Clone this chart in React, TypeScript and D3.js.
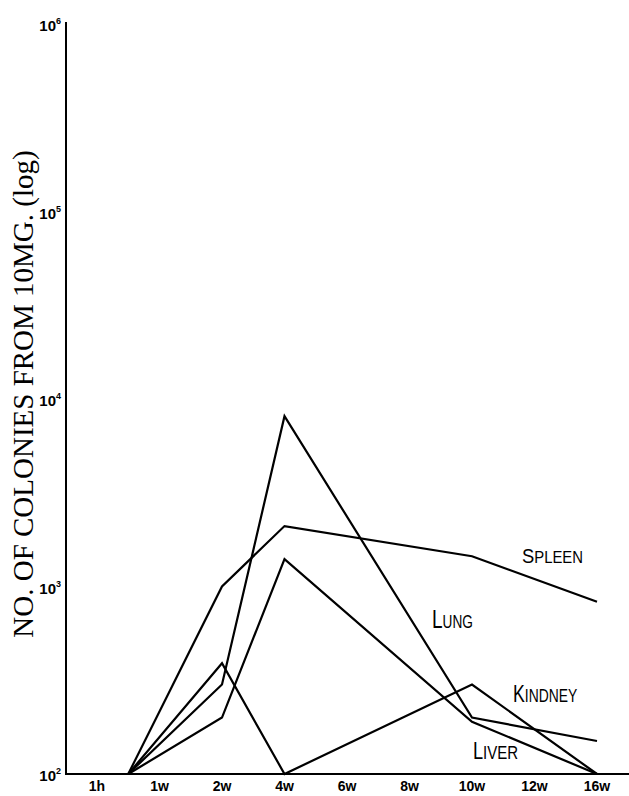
import React from "react";
import * as d3 from "d3";

// X categories (tick labels) and their positions on an index axis
const xTickLabels = ["1h", "1w", "2w", "4w", "6w", "8w", "10w", "12w", "16w"];
const xTickIndex = [0, 1, 2, 3, 4, 5, 6, 7, 8];

// Sampling points of the series (start point lies between 1h and 1w)
const pointIndex = [0.5, 2, 3, 6, 8];

// Series values (colonies from 10 mg, log scale)
const spleen = [100, 1000, 2100, 1450, 830];
const lung = [100, 300, 8100, 200, 150];
const kidney = [100, 390, 100, 300, 100];
const liver = [100, 200, 1400, 190, 100];

const seriesNames = ["SPLEEN", "LUNG", "KINDNEY", "LIVER"];
const seriesValues = [spleen, lung, kidney, liver];

// Y tick exponents
const yTickExp = [2, 3, 4, 5, 6];

const yTitle = "NO. OF COLONIES FROM 10MG. (log)";

const W = 629;
const H = 796;

export default function App() {
  const x = d3.scaleLinear().domain([0, 8]).range([97, 597]);
  const y = d3.scaleLog().domain([100, 1e6]).range([774, 24]);

  const line = d3
    .line<[number, number]>()
    .x((d) => x(d[0]))
    .y((d) => y(d[1]));

  // label anchors in data space (index, value) + styling
  const labelSpec = [
    { xi: 6.8, v: 1334, big: 21, small: 17, sx: 0.875 },
    { xi: 5.36, v: 601, big: 25, small: 18, sx: 0.76 },
    { xi: 6.656, v: 242, big: 23, small: 18, sx: 0.77 },
    { xi: 6.016, v: 120, big: 23, small: 19, sx: 0.79 },
  ];

  const x0 = 66;
  const yBase = y(100);

  return (
    <svg
      width={W}
      height={H}
      style={{ position: "absolute", left: 0, top: 0, background: "#fff" }}
    >
      <rect x={0} y={0} width={W} height={H} fill="#fff" />
      {/* axes */}
      <line x1={x0} y1={y(1e6) - 2} x2={x0} y2={yBase} stroke="#000" strokeWidth={2} />
      <line x1={x0 - 1} y1={yBase} x2={W} y2={yBase} stroke="#000" strokeWidth={2} />

      {/* y tick labels */}
      {yTickExp.map((e) => (
        <text
          key={e}
          x={61}
          y={y(Math.pow(10, e)) + 7}
          textAnchor="end"
          fontFamily="'Liberation Sans', Arial, sans-serif"
          fontWeight="bold"
          fontSize={15}
          fill="#000"
        >
          10
          <tspan dy={-7} fontSize={9}>
            {e}
          </tspan>
        </text>
      ))}

      {/* x tick labels */}
      {xTickIndex.map((i) => (
        <text
          key={i}
          x={x(i)}
          y={791}
          textAnchor="middle"
          fontFamily="'Liberation Sans', Arial, sans-serif"
          fontWeight="bold"
          fontSize={14}
          fill="#000"
        >
          {xTickLabels[i]}
        </text>
      ))}

      {/* y title */}
      <text
        transform={`translate(33,394) rotate(-90)`}
        textAnchor="middle"
        fontFamily="'Liberation Serif', 'Times New Roman', serif"
        fontSize={29}
        fill="#000"
      >
        {yTitle}
      </text>

      {/* series lines */}
      {seriesValues.map((vals, k) => (
        <path
          key={seriesNames[k]}
          d={line(vals.map((v, i) => [pointIndex[i], v] as [number, number])) || ""}
          fill="none"
          stroke="#000"
          strokeWidth={2.2}
          strokeLinejoin="miter"
        />
      ))}

      {/* series labels */}
      {seriesNames.map((name, k) => {
        const s = labelSpec[k];
        return (
          <text
            key={name}
            transform={`translate(${x(s.xi)},${y(s.v)}) scale(${s.sx},1)`}
            fontFamily="'Liberation Sans', Arial, sans-serif"
            fontSize={s.small}
            fill="#000"
          >
            <tspan fontSize={s.big}>{name[0]}</tspan>
            <tspan>{name.slice(1)}</tspan>
          </text>
        );
      })}
    </svg>
  );
}
